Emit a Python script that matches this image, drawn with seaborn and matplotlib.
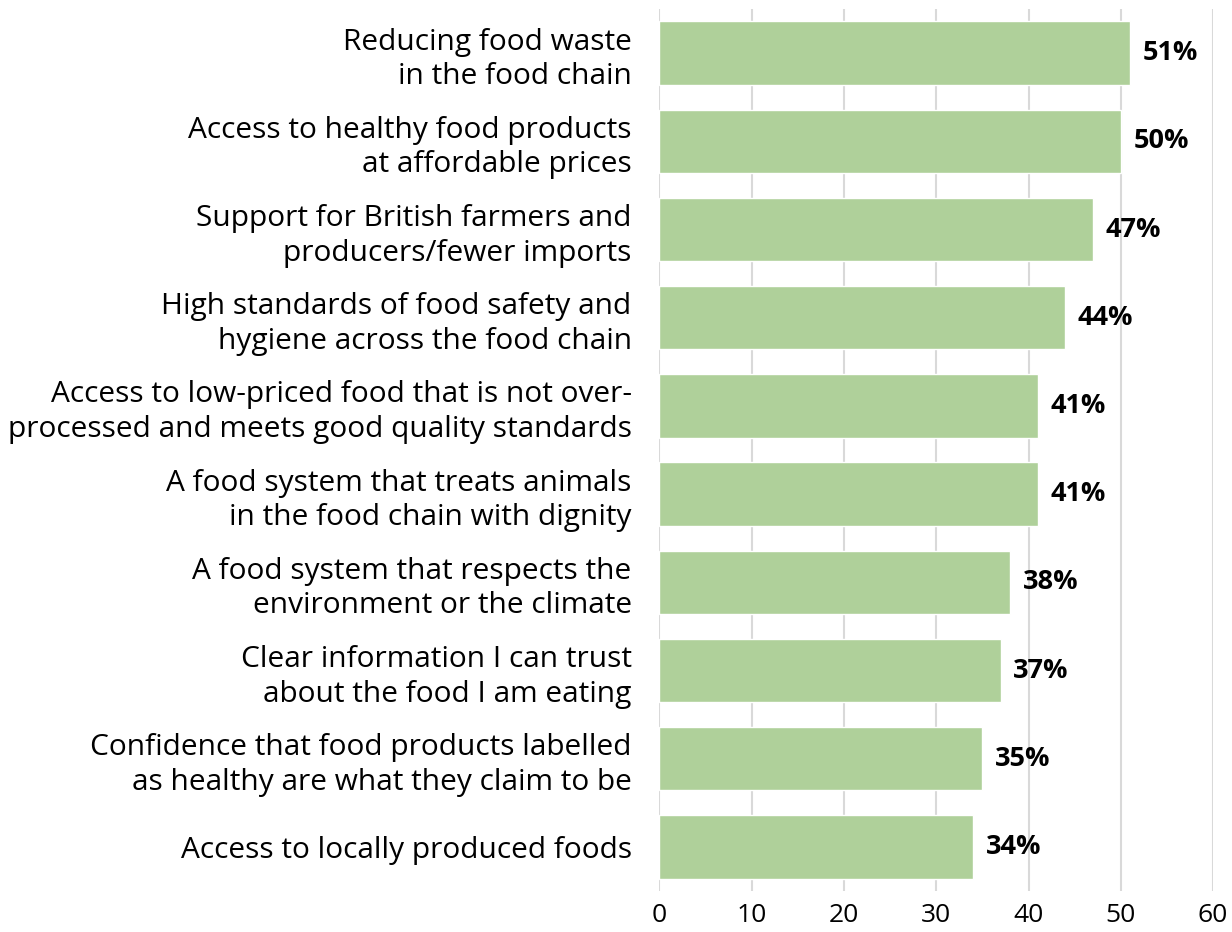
import matplotlib
matplotlib.use("Agg")
import matplotlib.pyplot as plt
import seaborn as sns
import pandas as pd

categories = [
    "Reducing food waste\nin the food chain",
    "Access to healthy food products\nat affordable prices",
    "Support for British farmers and\nproducers/fewer imports",
    "High standards of food safety and\nhygiene across the food chain",
    "Access to low-priced food that is not over-\nprocessed and meets good quality standards",
    "A food system that treats animals\nin the food chain with dignity",
    "A food system that respects the\nenvironment or the climate",
    "Clear information I can trust\nabout the food I am eating",
    "Confidence that food products labelled\nas healthy are what they claim to be",
    "Access to locally produced foods",
]
values = [51, 50, 47, 44, 41, 41, 38, 37, 35, 34]
x_ticks = [0, 10, 20, 30, 40, 50, 60]

sns.set_theme(style="white")
plt.rcParams["font.family"] = ["Open Sans", "DejaVu Sans"]

df = pd.DataFrame({"item": categories, "share": values})

fig = plt.figure(figsize=(12.32, 9.32), dpi=100)
ax = fig.add_axes([0.5353, 0.044, 0.4493, 0.9463])

sns.barplot(data=df, x="share", y="item", color="#afd09a", saturation=1,
            width=0.72, ax=ax, zorder=2)

ax.set_xlim(0, 60)
ax.set_ylim(9.5, -0.5)
ax.set_xticks(x_ticks)
ax.set_xticklabels([str(t) for t in x_ticks])
ax.grid(axis="x", color="#d9d9d9", linewidth=1.5, zorder=0)
ax.grid(axis="y", visible=False)
ax.set_axisbelow(True)
for s in ax.spines.values():
    s.set_visible(False)
ax.set_xlabel("")
ax.set_ylabel("")
ax.tick_params(axis="x", length=0, pad=9, labelsize=19, labelcolor="#000000")
ax.tick_params(axis="y", length=0, pad=20, labelsize=21.5, labelcolor="#000000")
for lbl in ax.get_yticklabels():
    lbl.set_horizontalalignment("right")
    lbl.set_multialignment("right")
    lbl.set_linespacing(1.25)

for i, v in enumerate(values):
    ax.annotate(f"{v}%", xy=(v, i), xytext=(9, 0), textcoords="offset points",
                ha="left", va="center", fontsize=19.5, fontweight="bold",
                color="#000000")

fig.savefig("out.png", dpi=100)
